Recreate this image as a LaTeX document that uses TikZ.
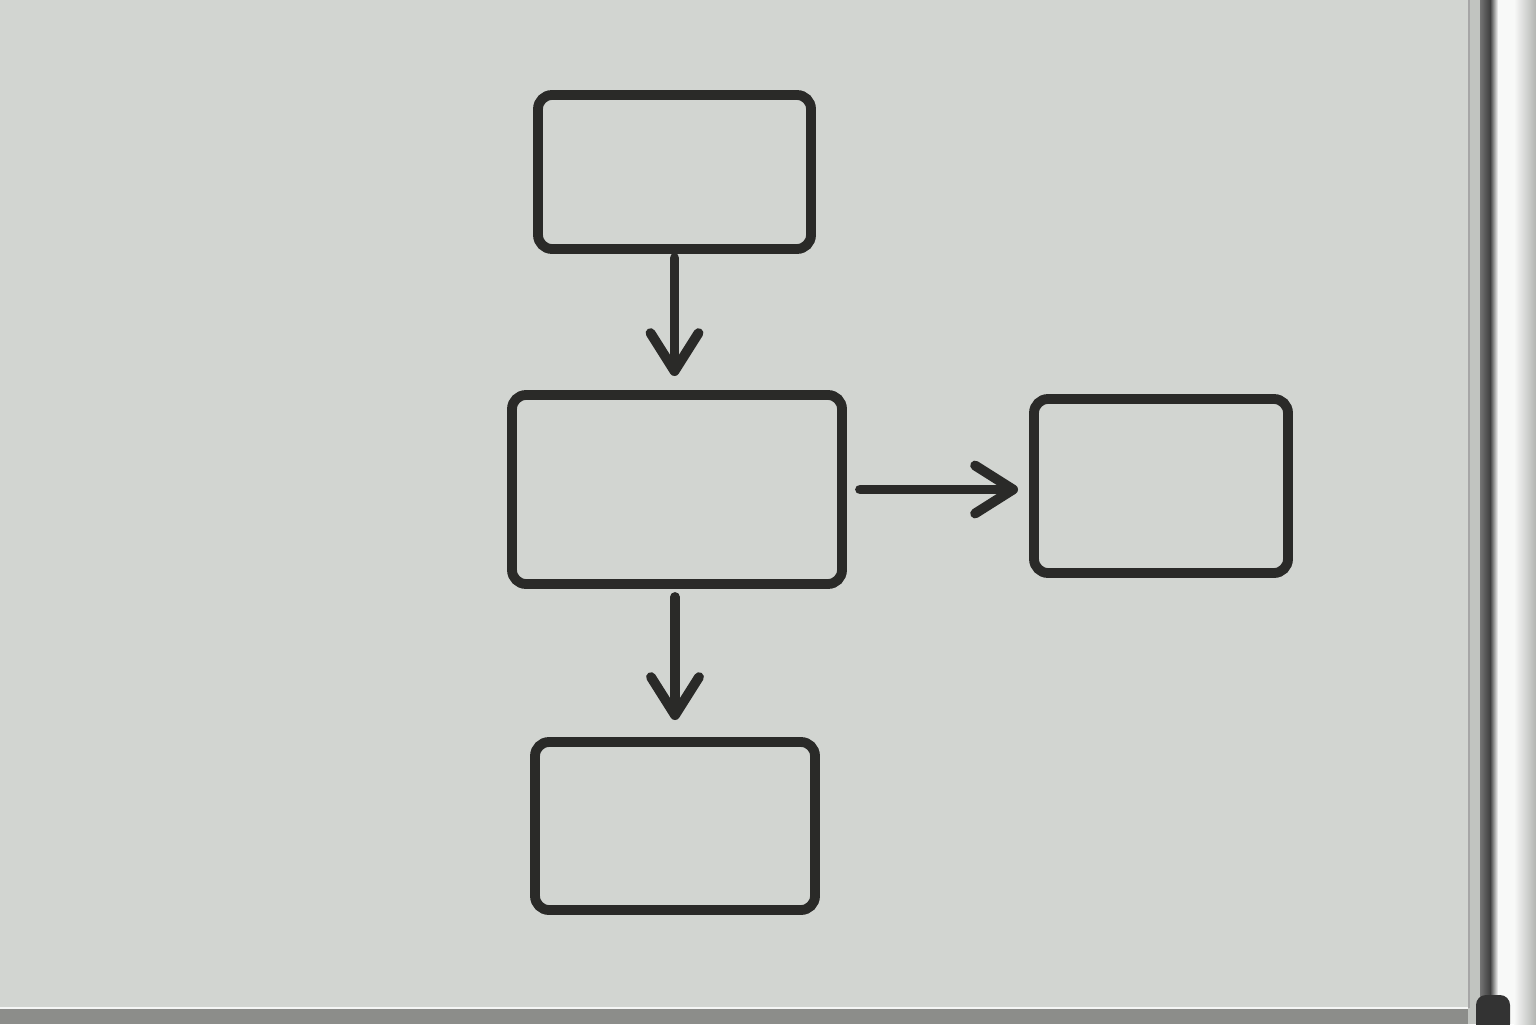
\documentclass[tikz,border=0pt]{standalone}
\usepackage{tikz}
\usetikzlibrary{arrows.meta}

\definecolor{board}{RGB}{210,213,209}
\definecolor{ink}{RGB}{42,42,40}
\definecolor{rail}{RGB}{140,141,138}

\begin{document}
\begin{tikzpicture}[
  box/.style={draw=ink, line width=2.8pt, rounded corners=1.4mm, minimum width=#1, inner sep=0pt, outer sep=0pt},
  flow/.style={draw=ink, line width=2.8pt, line cap=round,
    -{Straight Barb[length=3.8mm, width=4.8mm, line width=2.8pt, round]}}  % hand drawn arrows
]
% Whiteboard and frame
\useasboundingbox (0,0) rectangle (15.36,10.24);
\fill[board] (0,0) rectangle (15.36,10.24);
\fill[rail] (0,0) rectangle (14.75,0.16);
\fill[white!80!board] (0,0.15) rectangle (14.75,0.17);
\fill[board!92!black] (14.68,0) rectangle (14.80,10.24);
\draw[gray!70, line width=0.4pt] (14.69,0.16) -- (14.69,10.24);
\shade[left color=black!55, right color=black!75] (14.80,0) rectangle (14.90,10.24);
\shade[left color=black!75, right color=white!85!board] (14.90,0) rectangle (14.98,10.24);
\fill[white!85!board] (14.98,0) rectangle (15.14,10.24);
\shade[left color=white!85!board, right color=board!85!black] (15.14,0) rectangle (15.36,10.24);
\fill[black!80, rounded corners=1mm] (14.76,-0.1) rectangle (15.10,0.29);

% Boxes
\node[box=2.73cm, minimum height=1.54cm] (start) at (6.745,8.52) {};
\node[box=3.30cm, minimum height=1.89cm] (step1) at (6.77,5.345) {};
\node[box=2.54cm, minimum height=1.74cm] (side)  at (11.61,5.38) {};
\node[box=2.80cm, minimum height=1.68cm] (end)   at (6.75,1.98) {};

% Arrows
\draw[flow, shorten <=0.09cm, shorten >=0.19cm] (start.south) -- (start.south |- step1.north);
\draw[flow, shorten <=0.13cm, shorten >=0.22cm] (step1.south -| end.north) -- (end.north);
\draw[flow, shorten <=0.18cm, shorten >=0.16cm] (step1.east) -- (step1.east -| side.west);

\end{tikzpicture}
\end{document}
